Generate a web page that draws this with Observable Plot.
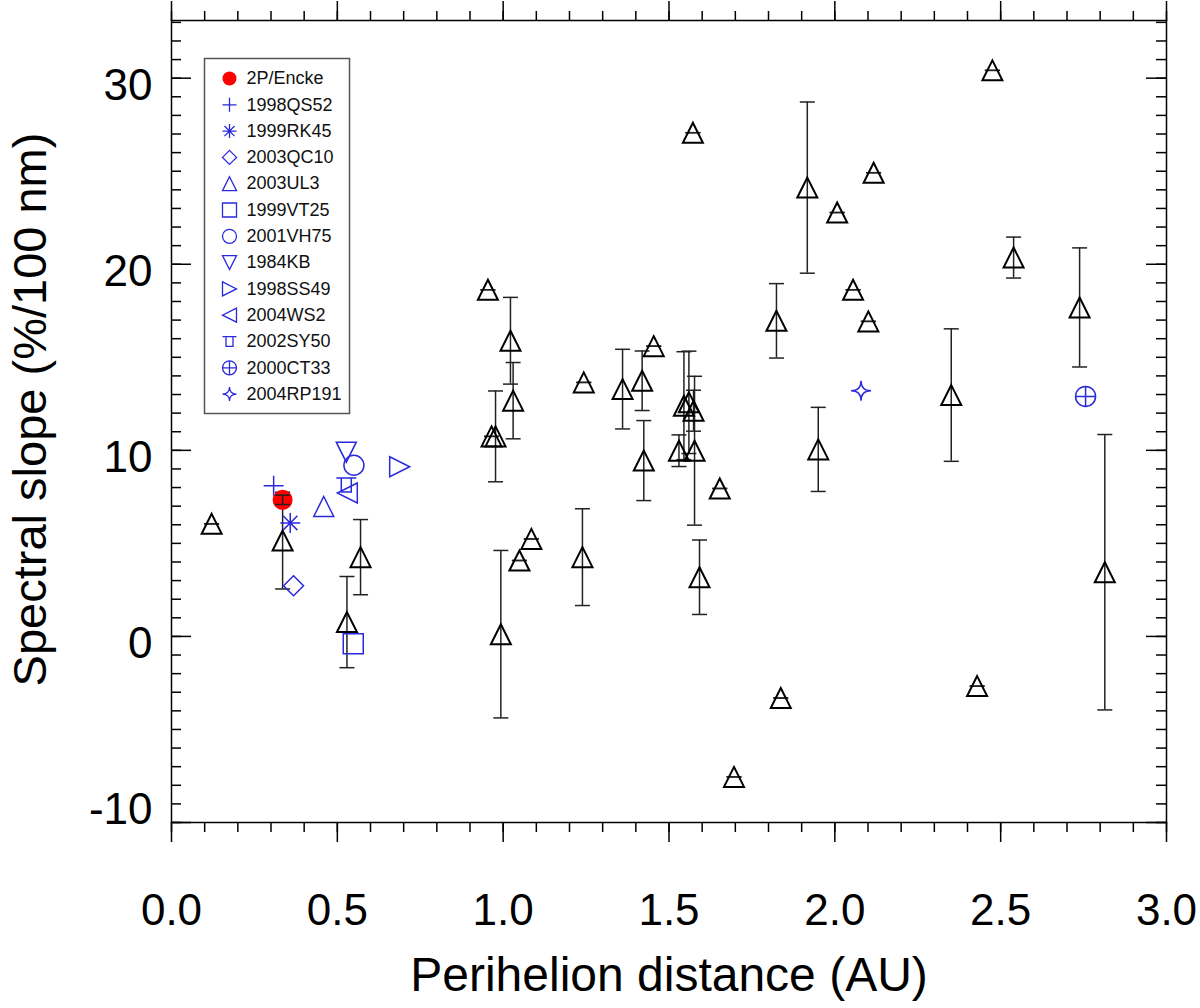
<!DOCTYPE html>
<html>
<head>
<meta charset="utf-8">
<script src="https://cdn.jsdelivr.net/npm/d3@7"></script>
<script src="https://cdn.jsdelivr.net/npm/@observablehq/plot@0.6"></script>
<style>
  body { margin: 0; background: #fff; }
  #chart svg { font-family: "Liberation Sans", Arial, Helvetica, sans-serif; }
</style>
</head>
<body>
<div id="chart"></div>
<script>
// Black triangles: perihelion distance (AU), spectral slope (%/100 nm), error
const triQ = [0.121, 0.335, 0.529, 0.570, 0.954, 0.965, 0.977, 0.993, 1.022, 1.030,
              1.049, 1.085, 1.239, 1.243, 1.360, 1.419, 1.424, 1.454, 1.530, 1.545,
              1.560, 1.572, 1.574, 1.577, 1.592, 1.653, 1.696, 1.824, 1.837, 1.917,
              1.950, 2.007, 2.055, 2.101, 2.117, 2.351, 2.429, 2.475, 2.539, 2.738, 2.814];
const triSlope = [6.05, 5.15, 0.77, 4.26, 18.63, 10.75, 10.75, 0.12, 15.89, 12.67,
                  4.08, 5.24, 4.26, 13.65, 13.29, 13.74, 9.45, 15.6, 9.98, 12.4,
                  12.58, 27.07, 12.13, 9.98, 3.18, 7.95, -7.55, 16.96, -3.31, 24.12,
                  10.05, 22.78, 18.63, 16.93, 24.92, 12.97, -2.67, 30.42, 20.36, 17.68, 3.45];
const triErr = [0, 2.6, 2.45, 2.02, 0, 0, 2.44, 4.5, 2.33, 2.05,
                0, 0, 2.6, 0, 2.14, 1.6, 2.15, 0, 0.85, 2.9,
                2.75, 0, 1.1, 4.0, 2.0, 0, 0, 2.0, 0, 4.6,
                2.26, 0, 0, 0, 0, 3.56, 0, 0, 1.1, 3.2, 7.4];

// Named objects (legend order)
const objNames = ["2P/Encke", "1998QS52", "1999RK45", "2003QC10", "2003UL3", "1999VT25",
                  "2001VH75", "1984KB", "1998SS49", "2004WS2", "2002SY50", "2000CT33", "2004RP191"];
const objQ =     [0.335, 0.308, 0.358, 0.368, 0.459, 0.548, 0.550, 0.527, 0.688, 0.530, 0.527, 2.756, 2.079];
const objSlope = [7.34, 8.1, 6.1, 2.72, 6.98, -0.39, 9.2, 9.9, 9.12, 7.71, 8.14, 12.9, 13.2];
const enckeErr = 0.25;

const xMajor = [0, 0.5, 1, 1.5, 2, 2.5, 3];
const xMinor = d3.range(0, 3.01, 0.1).map(d => +d.toFixed(1));
const yLabels = [0, 10, 20, 30];
const yMajor = [-10, 0, 10, 20, 30];
const yMinor = d3.range(-10, 34, 1);

// custom IDL-like symbols; r is the half width
const sym = f => ({draw(c, size) { f(c, Math.sqrt(size / Math.PI)); }});
const symbols = {
  triUp: sym((c, r) => { c.moveTo(0, -r); c.lineTo(r, r); c.lineTo(-r, r); c.closePath(); }),
  triDown: sym((c, r) => { c.moveTo(-r, -r); c.lineTo(r, -r); c.lineTo(0, r); c.closePath(); }),
  triRight: sym((c, r) => { c.moveTo(-r, -r); c.lineTo(r, 0); c.lineTo(-r, r); c.closePath(); }),
  triLeft: sym((c, r) => { c.moveTo(r, -r); c.lineTo(-r, 0); c.lineTo(r, r); c.closePath(); }),
  plus: sym((c, r) => { c.moveTo(-r, 0); c.lineTo(r, 0); c.moveTo(0, -r); c.lineTo(0, r); }),
  asterisk: sym((c, r) => {
    const k = r * 0.72;
    c.moveTo(-r, 0); c.lineTo(r, 0); c.moveTo(0, -r); c.lineTo(0, r);
    c.moveTo(-k, -k); c.lineTo(k, k); c.moveTo(-k, k); c.lineTo(k, -k);
  }),
  diamond: sym((c, r) => { c.moveTo(0, -r); c.lineTo(r, 0); c.lineTo(0, r); c.lineTo(-r, 0); c.closePath(); }),
  square: sym((c, r) => { c.rect(-r, -r, 2 * r, 2 * r); }),
  circle: sym((c, r) => { c.moveTo(r, 0); c.arc(0, 0, r, 0, 2 * Math.PI); }),
  capBox: sym((c, r) => {
    c.moveTo(-r, -0.7 * r); c.lineTo(r, -0.7 * r);
    c.rect(-0.5 * r, -0.7 * r, r, 1.4 * r);
  }),
  circlePlus: sym((c, r) => {
    c.moveTo(r, 0); c.arc(0, 0, r, 0, 2 * Math.PI);
    c.moveTo(-r, 0); c.lineTo(r, 0); c.moveTo(0, -r); c.lineTo(0, r);
  }),
  star4: sym((c, r) => {
    c.moveTo(0, -r);
    c.quadraticCurveTo(0, 0, r, 0);
    c.quadraticCurveTo(0, 0, 0, r);
    c.quadraticCurveTo(0, 0, -r, 0);
    c.quadraticCurveTo(0, 0, 0, -r);
    c.closePath();
  }),
  cap: sym((c, r) => { c.moveTo(-r, 0); c.lineTo(r, 0); })
};
const objSymbol = ["circle", "plus", "asterisk", "diamond", "triUp", "square",
                   "circle", "triDown", "triRight", "triLeft", "capBox", "circlePlus", "star4"];

const blue = "#2a2adc";
const red = "#ff0000";
const tri = triQ.map((q, i) => ({q, s: triSlope[i], e: triErr[i]}));
const objs = objNames.map((name, i) => ({name, q: objQ[i], s: objSlope[i], symbol: objSymbol[i]}));

const W = 1200, H = 1008;
const mL = 171, mR = 34, mT = 20, mB = 186;
const fw = W - mL - mR, fh = H - mT - mB;
const rowY = i => 78 + i * 26.3 - mT;

const objMarks = objs.slice(1).map(o =>
  Plot.dot([o], {x: "q", y: "s", r: 10, symbol: symbols[o.symbol], stroke: blue, strokeWidth: 1.5, fill: "none"})
);

const legendMarks = objs.flatMap((o, i) => [
  i === 0
    ? Plot.dot([o], {frameAnchor: "top-left", dx: 58, dy: rowY(i), r: 7, fill: red, stroke: "none"})
    : Plot.dot([o], {frameAnchor: "top-left", dx: 58, dy: rowY(i), r: 7, symbol: symbols[o.symbol], stroke: blue, strokeWidth: 1.3, fill: "none"}),
  Plot.text([o], {frameAnchor: "top-left", dx: 75, dy: rowY(i), text: "name", textAnchor: "start", lineAnchor: "middle", fontSize: 18, fill: "#111"})
]);

const chart = Plot.plot({
  width: W,
  height: H,
  marginLeft: mL,
  marginRight: mR,
  marginTop: mT,
  marginBottom: mB,
  x: {domain: [0, 3]},
  y: {domain: [-10, 33.1]},
  marks: [
    // axes
    Plot.axisX({anchor: "bottom", ticks: xMajor, tickSize: 20, tickPadding: 51, tickFormat: d3.format(".1f"), fontSize: 44, strokeWidth: 1.5, label: null}),
    Plot.axisX({anchor: "bottom", ticks: xMinor, tickSize: 10, tickFormat: () => "", strokeWidth: 1.5, label: null}),
    Plot.axisX({anchor: "top", ticks: xMajor, tickSize: 20, tickFormat: () => "", strokeWidth: 1.5, label: null}),
    Plot.axisX({anchor: "top", ticks: xMinor, tickSize: 10, tickFormat: () => "", strokeWidth: 1.5, label: null}),
    Plot.axisY({anchor: "left", ticks: yLabels, tickSize: 0, tickPadding: 19, dy: 7.5, tickFormat: d => String(d), fontSize: 44, label: null}),
    Plot.axisY({anchor: "left", ticks: [-10], tickSize: 0, tickPadding: 19, dy: -13, tickFormat: d => String(d), fontSize: 44, label: null}),
    Plot.tickY(yMajor, {y: d => d, insetRight: fw - 20, strokeWidth: 1.5}),
    Plot.tickY(yMinor, {y: d => d, insetRight: fw - 10, strokeWidth: 1.5}),
    Plot.tickY(yMajor, {y: d => d, insetLeft: fw - 20, strokeWidth: 1.5}),
    Plot.tickY(yMinor, {y: d => d, insetLeft: fw - 10, strokeWidth: 1.5}),
    Plot.frame({stroke: "black", strokeWidth: 1.5}),
    Plot.text(["Perihelion distance (AU)"], {frameAnchor: "bottom", textAnchor: "middle", lineAnchor: "bottom", dy: 168, fontSize: 48, fill: "black"}),
    Plot.text(["Spectral slope (%/100 nm)"], {frameAnchor: "left", textAnchor: "middle", rotate: -90, lineAnchor: "bottom", dx: -126, dy: -12, fontSize: 47, fill: "black"}),

    // black triangles with error bars
    Plot.ruleX(tri.filter(d => d.e > 0), {x: "q", y1: d => d.s - d.e, y2: d => d.s + d.e, stroke: "#222", strokeWidth: 1.5}),
    Plot.dot(tri, {x: "q", y: d => d.s - d.e, r: 7.5, symbol: symbols.cap, stroke: "#222", strokeWidth: 1.5}),
    Plot.dot(tri, {x: "q", y: d => d.s + d.e, r: 7.5, symbol: symbols.cap, stroke: "#222", strokeWidth: 1.5}),
    Plot.dot(tri, {x: "q", y: "s", r: 10, symbol: symbols.triUp, stroke: "black", strokeWidth: 2, fill: "none"}),

    // named objects
    ...objMarks,
    Plot.dot([objs[0]], {x: "q", y: "s", r: 10, fill: red, stroke: "none"}),
    Plot.ruleX([objs[0]], {x: "q", y1: d => d.s - enckeErr, y2: d => d.s + enckeErr, stroke: "#222", strokeWidth: 1.5}),
    Plot.dot([objs[0]], {x: "q", y: d => d.s - enckeErr, r: 7.5, symbol: symbols.cap, stroke: "#222", strokeWidth: 1.5}),
    Plot.dot([objs[0]], {x: "q", y: d => d.s + enckeErr, r: 7.5, symbol: symbols.cap, stroke: "#222", strokeWidth: 1.5}),

    // legend
    Plot.frame({stroke: "#555", strokeWidth: 1.5, insetLeft: 33, insetTop: 38, insetRight: fw - 178, insetBottom: fh - 393}),
    ...legendMarks
  ]
});

document.getElementById("chart").append(chart);
</script>
</body>
</html>
